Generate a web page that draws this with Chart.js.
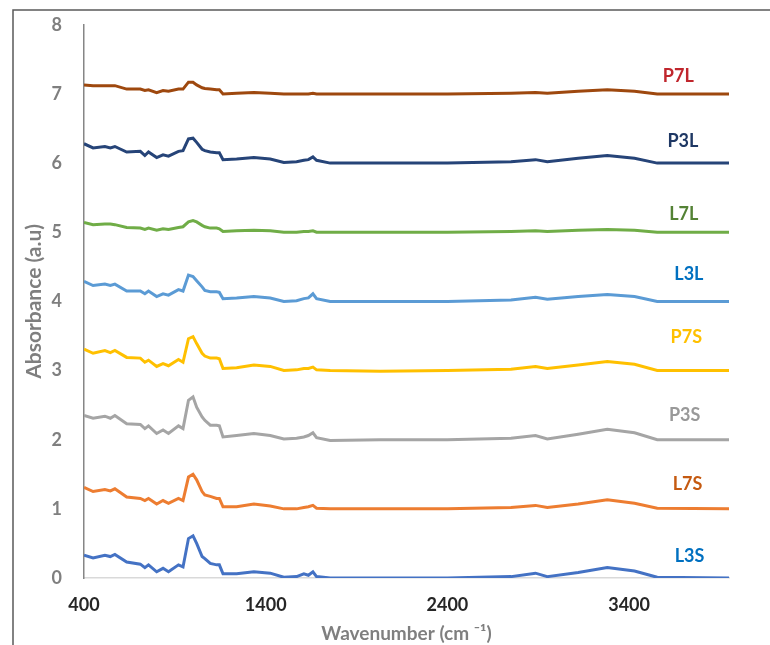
<!DOCTYPE html>
<html>
<head>
<meta charset="utf-8">
<script src="https://cdn.jsdelivr.net/npm/chart.js@4"></script>
<style>
html,body{margin:0;padding:0;background:#fff;}
#wrap{width:770px;height:645px;position:relative;}
</style>
</head>
<body>
<div id="wrap"><canvas id="c" width="770" height="645"></canvas></div>
<script>
// wavenumber grid (cm-1) shared by all spectra
const wavenumber=[400,450,515,545,570,635,710,735,755,800,835,865,920,945,975,1000,1020,1050,1065,1095,1130,1145,1165,1240,1335,1425,1500,1570,1610,1635,1660,1680,1755,2030,2400,2750,2885,2950,3120,3280,3430,3555,3950];

// absorbance, each spectrum already offset by 1
const L3S=[0.33,0.29,0.33,0.31,0.34,0.23,0.20,0.15,0.19,0.09,0.14,0.09,0.19,0.16,0.57,0.61,0.50,0.31,0.28,0.21,0.19,0.19,0.06,0.06,0.09,0.07,0.01,0.02,0.06,0.04,0.09,0.02,0.00,0.00,0.00,0.02,0.07,0.02,0.08,0.15,0.10,0.01,0.00];
const L7S=[1.31,1.25,1.28,1.26,1.29,1.17,1.15,1.12,1.15,1.07,1.12,1.08,1.15,1.12,1.46,1.50,1.42,1.25,1.20,1.18,1.15,1.15,1.03,1.03,1.07,1.04,1.00,1.00,1.02,1.03,1.05,1.01,1.00,1.00,1.00,1.02,1.05,1.02,1.07,1.13,1.08,1.01,1.00];
const P3S=[2.35,2.31,2.34,2.31,2.35,2.23,2.22,2.16,2.20,2.09,2.14,2.09,2.20,2.16,2.57,2.62,2.47,2.33,2.28,2.21,2.21,2.20,2.04,2.06,2.09,2.06,2.01,2.02,2.04,2.06,2.10,2.03,1.99,2.00,2.00,2.02,2.06,2.01,2.08,2.15,2.10,2.00,2.00];
const P7S=[3.31,3.25,3.29,3.26,3.29,3.19,3.18,3.12,3.15,3.06,3.10,3.07,3.16,3.12,3.46,3.49,3.39,3.25,3.21,3.18,3.18,3.17,3.03,3.04,3.08,3.06,3.00,3.01,3.03,3.03,3.05,3.01,3.00,2.99,3.00,3.02,3.06,3.03,3.08,3.13,3.09,3.00,3.00];
const L3L=[4.29,4.23,4.25,4.23,4.25,4.15,4.15,4.11,4.15,4.07,4.11,4.09,4.17,4.15,4.38,4.36,4.30,4.21,4.16,4.14,4.14,4.13,4.04,4.05,4.07,4.05,4.00,4.01,4.04,4.05,4.11,4.04,4.00,4.00,4.00,4.02,4.06,4.03,4.07,4.10,4.07,4.00,4.00];
const L7L=[5.14,5.11,5.12,5.12,5.11,5.07,5.06,5.04,5.06,5.03,5.05,5.04,5.07,5.08,5.15,5.17,5.15,5.10,5.08,5.06,5.06,5.05,5.01,5.02,5.03,5.02,5.00,5.00,5.01,5.01,5.02,5.00,5.00,5.00,5.00,5.01,5.02,5.01,5.03,5.04,5.03,5.00,5.00];
const P3L=[6.28,6.22,6.24,6.22,6.24,6.16,6.17,6.11,6.16,6.08,6.12,6.10,6.17,6.18,6.35,6.36,6.30,6.20,6.18,6.16,6.15,6.15,6.05,6.06,6.08,6.06,6.01,6.02,6.04,6.05,6.09,6.04,6.00,6.00,6.00,6.02,6.05,6.02,6.07,6.11,6.07,6.00,6.00];
const P7L=[7.13,7.12,7.12,7.12,7.12,7.07,7.07,7.05,7.06,7.02,7.05,7.04,7.07,7.07,7.17,7.17,7.13,7.09,7.08,7.07,7.06,7.06,7.00,7.01,7.02,7.01,7.00,7.00,7.00,7.00,7.01,7.00,7.00,7.00,7.00,7.01,7.02,7.01,7.04,7.06,7.04,7.00,7.00];

const names=["L3S","L7S","P3S","P7S","L3L","L7L","P3L","P7L"];
const xTicks=[400,1400,2400,3400];

const lineColors=["#4472C4","#ED7D31","#A5A5A5","#FFC000","#5B9BD5","#70AD47","#264478","#9E480E"];
const tagColors=["#0070C0","#C55A11","#999999","#FFC000","#0070C0","#548235","#1F3864","#C0262D"];
// where the sample names sit (data coords)
const tagX=[3733,3722,3706,3715,3729,3701,3696,3671];
const tagY=[0.31,1.36,2.35,3.48,4.40,5.26,6.32,7.26];

const series=[L3S,L7S,P3S,P7S,L3L,L7L,P3L,P7L];
const FONT="Lato, 'Open Sans', sans-serif";

const datasets=series.map((s,i)=>({
label:names[i],
data:wavenumber.map((w,j)=>({x:w,y:s[j]})),
borderColor:lineColors[i],
borderWidth:3,
pointRadius:0,
tension:0,
fill:false
}));

/* names next to the curves + outer frame */
const tags={
id:"tags",
afterDraw(chart){
const ctx=chart.ctx;
const xs=chart.scales.x, ys=chart.scales.y;
ctx.save();
ctx.font="bold 18px "+FONT;
ctx.textAlign="center";
ctx.textBaseline="middle";
names.forEach((n,i)=>{
ctx.fillStyle=tagColors[i];
ctx.fillText(n,xs.getPixelForValue(tagX[i]),ys.getPixelForValue(tagY[i]));
});
ctx.strokeStyle="#595959";
ctx.lineWidth=1.5;
ctx.strokeRect(13,10,800,700);
ctx.restore();
}
};

new Chart(document.getElementById("c"),{
type:"line",
data:{datasets:datasets},
options:{
responsive:false,
animation:false,
devicePixelRatio:1,
layout:{padding:{left:22,right:41,top:24,bottom:0}},
plugins:{legend:{display:false},tooltip:{enabled:false}},
scales:{
x:{
type:"linear",
min:400,max:3950,
afterBuildTicks:s=>{s.ticks=xTicks.map(v=>({value:v}));},
afterFit:s=>{s.height=67;},
grid:{display:false},
border:{color:"#d9d9d9",width:1.5},
ticks:{color:"#262626",font:{family:FONT,size:18,weight:"bold"},padding:8,maxRotation:0,callback:v=>String(v)},
title:{display:true,text:"Wavenumber (cm \u207B\u00B9)",color:"#7f7f7f",font:{family:FONT,size:19,weight:"bold"},padding:{top:0,bottom:0}}
},
y:{
min:0,max:8,
afterFit:s=>{s.width=62;},
grid:{display:false},
border:{color:"#868686",width:1.5},
ticks:{stepSize:1,color:"#7f7f7f",font:{family:FONT,size:18,weight:"bold"},padding:14},
title:{display:true,text:"Absorbance (a.u)",color:"#7f7f7f",font:{family:FONT,size:21,weight:"bold"},padding:{top:0,bottom:0}}
}
}
},
plugins:[tags]
});
</script>
</body>
</html>
